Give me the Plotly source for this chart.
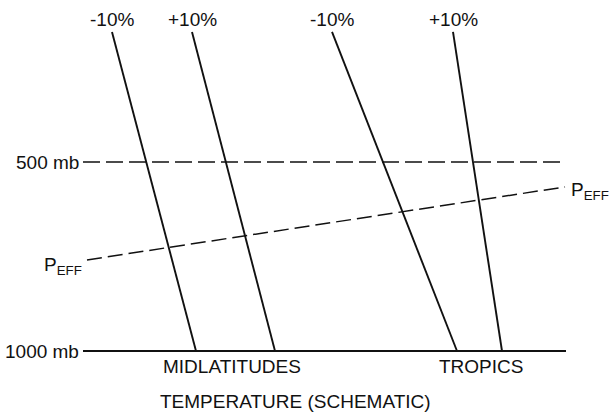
import plotly.graph_objects as go

# ---- data (schematic) ----
profile_labels = ["-10%", "+10%", "-10%", "+10%"]
profile_T_top = [112, 192, 332, 453]      # schematic temperature at top of profile
profile_T_sfc = [196, 275, 457, 502]      # schematic temperature at 1000 mb
p_top = 156                                # pressure (mb) at top of profiles
p_sfc = 1000

level_p = [500, 1000]
level_labels = ["500 mb", "1000 mb"]
level_T = [83, 566]                        # extent of reference levels

peff_T = [87, 565]
peff_p = [759, 566]

region_labels = ["MIDLATITUDES", "TROPICS"]
x_title = "TEMPERATURE (SCHEMATIC)"

FONT = "Liberation Sans"
INK = "#111111"

fig = go.Figure()

# temperature profiles
for lab, t0, t1 in zip(profile_labels, profile_T_top, profile_T_sfc):
    fig.add_trace(go.Scatter(x=[t0, t1], y=[p_top, p_sfc], mode="lines",
                             line=dict(color=INK, width=1.9), showlegend=False,
                             hoverinfo="skip"))
    fig.add_annotation(x=t0, y=p_top, text=lab, showarrow=False,
                       xanchor="center", yanchor="middle", yshift=12,
                       font=dict(family=FONT, size=19, color=INK))

# reference levels
for p, lab in zip(level_p, level_labels):
    dash = "17px,6px" if p == 500 else "solid"
    width = 1.5 if p == 500 else 2
    fig.add_trace(go.Scatter(x=level_T, y=[p, p], mode="lines",
                             line=dict(color=INK, width=width, dash=dash),
                             showlegend=False, hoverinfo="skip"))
    fig.add_annotation(x=level_T[0], y=p, text=lab, showarrow=False,
                       xanchor="right", yanchor="middle", xshift=-2,
                       font=dict(family=FONT, size=19, color=INK))

# effective pressure level
fig.add_trace(go.Scatter(x=peff_T, y=peff_p, mode="lines",
                         line=dict(color=INK, width=1.5, dash="15px,6px"),
                         showlegend=False, hoverinfo="skip"))
fig.add_annotation(x=peff_T[0], y=peff_p[0], text="P<sub>EFF</sub>", showarrow=False,
                   xanchor="right", yanchor="middle", xshift=-3, yshift=-6,
                   font=dict(family=FONT, size=19, color=INK))
fig.add_annotation(x=peff_T[1], y=peff_p[1], text="P<sub>EFF</sub>", showarrow=False,
                   xanchor="left", yanchor="middle", xshift=4, yshift=-4,
                   font=dict(family=FONT, size=19, color=INK))

# region labels
for lab, xc in zip(region_labels, [232, 481]):
    fig.add_annotation(x=xc, y=p_sfc, text=lab, showarrow=False,
                       xanchor="center", yanchor="middle", yshift=-15,
                       font=dict(family=FONT, size=19, color=INK))

fig.add_annotation(x=295, y=p_sfc, text=x_title, showarrow=False,
                   xanchor="center", yanchor="middle", yshift=-50,
                   font=dict(family=FONT, size=19, color=INK))

# axis mapping: 500 mb -> 162 px, 1000 mb -> 351 px from top
px_per_mb = (351 - 162) / 500
y_top = 500 - 162 / px_per_mb
y_bot = 1000 + (419 - 351) / px_per_mb

fig.update_layout(
    width=609, height=419,
    margin=dict(l=0, r=0, t=0, b=0),
    paper_bgcolor="white", plot_bgcolor="white",
    xaxis=dict(range=[0, 609], visible=False, fixedrange=True),
    yaxis=dict(range=[y_bot, y_top], visible=False, fixedrange=True),
)

fig.write_html("out.html")
